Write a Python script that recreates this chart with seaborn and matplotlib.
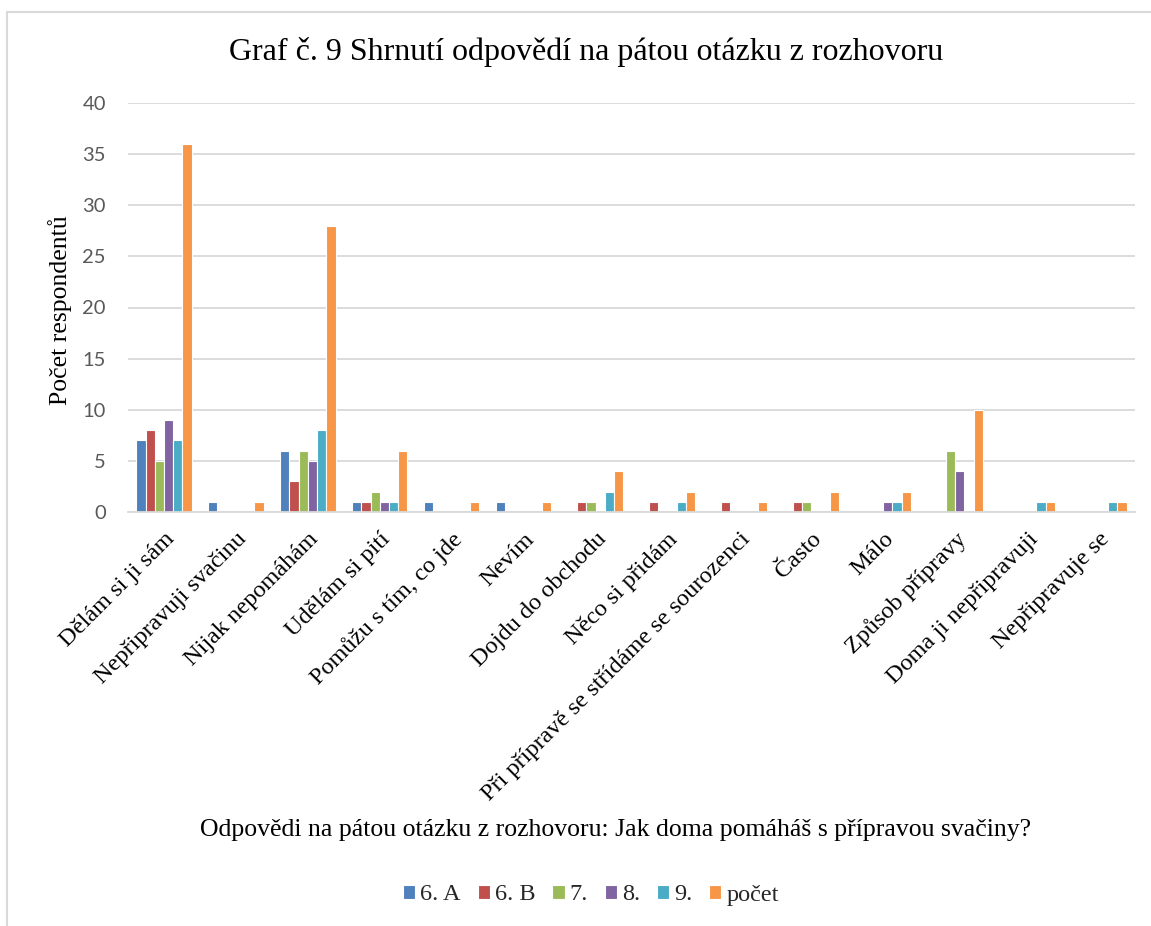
import matplotlib
matplotlib.use("Agg")
import matplotlib.pyplot as plt
import seaborn as sns
import pandas as pd
from matplotlib.patches import Rectangle

# Answers to question 5 and counts per class
categories = [
    "Dělám si ji sám",
    "Nepřipravuji svačinu",
    "Nijak nepomáhám",
    "Udělám si pití",
    "Pomůžu s tím, co jde",
    "Nevím",
    "Dojdu do obchodu",
    "Něco si přidám",
    "Při přípravě se střídáme se sourozenci",
    "Často",
    "Málo",
    "Způsob přípravy",
    "Doma ji nepřipravuji",
    "Nepřipravuje se",
]
series_names = ["6. A", "6. B", "7.", "8.", "9.", "počet"]
class_6a = [7, 1, 6, 1, 1, 1, 0, 0, 0, 0, 0, 0, 0, 0]
class_6b = [8, 0, 3, 1, 0, 0, 1, 1, 1, 1, 0, 0, 0, 0]
class_7 = [5, 0, 6, 2, 0, 0, 1, 0, 0, 1, 0, 6, 0, 0]
class_8 = [9, 0, 5, 1, 0, 0, 0, 0, 0, 0, 1, 4, 0, 0]
class_9 = [7, 0, 8, 1, 0, 0, 2, 1, 0, 0, 1, 0, 1, 1]
total = [36, 1, 28, 6, 1, 1, 4, 2, 1, 2, 2, 10, 1, 1]
y_ticks = [0, 5, 10, 15, 20, 25, 30, 35, 40]

colors = ["#4F81BD", "#C0504D", "#9BBB59", "#8064A2", "#4BACC6", "#F79646"]

rows = []
for name, vals in zip(series_names, [class_6a, class_6b, class_7, class_8, class_9, total]):
    for cat, v in zip(categories, vals):
        rows.append({"odpoved": cat, "trida": name, "pocet": v})
df = pd.DataFrame(rows)

sns.set_theme(style="white")
serif = ["Liberation Serif", "DejaVu Serif"]
plt.rcParams["font.family"] = serif

W, H = 1151, 926
fig = plt.figure(figsize=(W / 100, H / 100), dpi=100)
ax = fig.add_axes([128 / W, 1 - 512 / H, (1135 - 128) / W, (512 - 103) / H])

sns.barplot(
    data=df, x="odpoved", y="pocet", hue="trida",
    order=categories, hue_order=series_names, palette=colors, saturation=1,
    width=0.77, edgecolor="white", linewidth=0.8, ax=ax, legend=True,
)

ax.set_ylim(0, 40)
ax.set_xlim(-0.5, len(categories) - 0.5)
ax.set_yticks(y_ticks)
ax.yaxis.grid(True, color="#D9D9D9", linewidth=1.3)
ax.set_axisbelow(True)
for side in ["top", "right", "left"]:
    ax.spines[side].set_visible(False)
ax.spines["bottom"].set_color("#D9D9D9")
ax.spines["bottom"].set_linewidth(1.3)
ax.tick_params(axis="both", length=0)
ax.tick_params(axis="y", pad=16)
for lab in ax.get_yticklabels():
    lab.set_fontfamily(["Lato", "DejaVu Sans"])
    lab.set_fontsize(14.5)
    lab.set_color("#595959")
ax.set_xticks(range(len(categories)))
ax.set_xticklabels(categories, rotation=45, ha="right", rotation_mode="anchor",
                   fontsize=17.5, color="black")
ax.tick_params(axis="x", pad=12)
ax.set_xlabel("")
ax.set_ylabel("")

# Titles
fig.text(586 / W, 1 - 52 / H, "Graf č. 9 Shrnutí odpovědí na pátou otázku z rozhovoru",
         ha="center", va="center", fontsize=23, color="black")
fig.text(616 / W, 1 - 830 / H,
         "Odpovědi na pátou otázku z rozhovoru: Jak doma pomáháš s přípravou svačiny?",
         ha="center", va="center", fontsize=18.5, color="black")
fig.text(60 / W, 1 - 310 / H, "Počet respondentů", rotation=90,
         ha="center", va="center", fontsize=18.5, color="black")

# Legend at the bottom
handles, labels = ax.get_legend_handles_labels()
ax.legend_.remove()
fig.legend(handles, labels, loc="center", bbox_to_anchor=(591 / W, 1 - 895 / H),
           ncol=6, frameon=False, fontsize=17.5, handlelength=0.5, handleheight=0.5,
           handletextpad=0.2, columnspacing=0.7, borderaxespad=0, borderpad=0)

# Chart frame
fig.patches.append(Rectangle((7 / W, -0.1), 1.2, 1 - 12 / H + 0.1,
                             transform=fig.transFigure, fill=False,
                             edgecolor="#D9D9D9", linewidth=1.5))

fig.savefig("out.png", dpi=100)
